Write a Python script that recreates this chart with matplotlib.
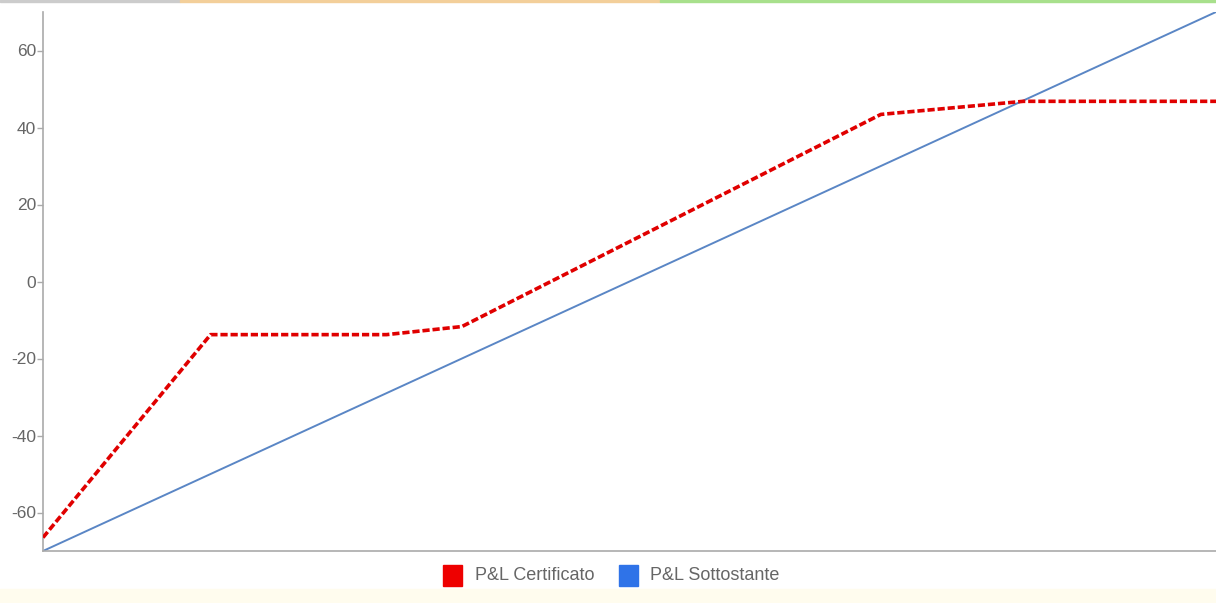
import matplotlib
matplotlib.use("Agg")
import matplotlib.pyplot as plt
from matplotlib.patches import Rectangle

# Data (underlying performance % on x)
x_under = [-70, 70]
pl_sottostante = [-70, 70]
x_cert = [-70, -50, -29, -20, 30, 47, 70]
pl_certificato = [-66.5, -13.8, -13.8, -11.7, 43.4, 46.8, 46.8]
y_ticks = [-60, -40, -20, 0, 20, 40, 60]
legend_labels = ["P&L Certificato", "P&L Sottostante"]

plt.rcParams['font.family'] = ['Liberation Sans', 'DejaVu Sans']

fig = plt.figure(figsize=(12.16, 6.03), dpi=100)
ax = fig.add_axes([43/1216, 52/603, 1 - 43/1216, 539/603])

ax.plot(x_under, pl_sottostante, color="#5a86c5", lw=1.4, zorder=2)
ax.plot(x_cert, pl_certificato, color="#e00000", lw=2.6, ls=(0, (2.0, 0.8)), zorder=3)

ax.set_xlim(-70, 70)
ax.set_ylim(-70, 70)
ax.set_yticks(y_ticks)
ax.set_yticklabels([str(v) for v in y_ticks])
ax.set_xticks([])
for s in ["top", "right"]:
    ax.spines[s].set_visible(False)
for s in ["left", "bottom"]:
    ax.spines[s].set_color("#aaaaaa")
    ax.spines[s].set_linewidth(1.2)
ax.tick_params(axis="y", direction="out", length=4, width=1, color="#aaaaaa",
               labelcolor="#666666", labelsize=12.5, pad=1)

fh = 603.0
fw = 1216.0
# Legend drawn at figure level
fig.patches.append(Rectangle((443/fw, (603-586)/fh), 19/fw, 21/fh, transform=fig.transFigure,
                             color="#ee0000", zorder=5))
fig.text(475/fw, (603-576)/fh, legend_labels[0], fontsize=13, color="#666666", va="center")
fig.patches.append(Rectangle((619/fw, (603-586)/fh), 19/fw, 21/fh, transform=fig.transFigure,
                             color="#2f73e8", zorder=5))
fig.text(650/fw, (603-576)/fh, legend_labels[1], fontsize=13, color="#666666", va="center")

# subtle bottom band and top border artifacts
fig.patches.append(Rectangle((0, 0), 1, 14/fh, transform=fig.transFigure,
                             color="#fffcee", zorder=0))
fig.patches.append(Rectangle((0, 1 - 2/fh), 180/fw, 2/fh, transform=fig.transFigure,
                             color="#cccccc", zorder=0))
fig.patches.append(Rectangle((180/fw, 1 - 2/fh), 480/fw, 2/fh, transform=fig.transFigure,
                             color="#f3cf9a", zorder=0))
fig.patches.append(Rectangle((660/fw, 1 - 2/fh), 556/fw, 2/fh, transform=fig.transFigure,
                             color="#a8e08c", zorder=0))

fig.savefig("out.png", dpi=100)
